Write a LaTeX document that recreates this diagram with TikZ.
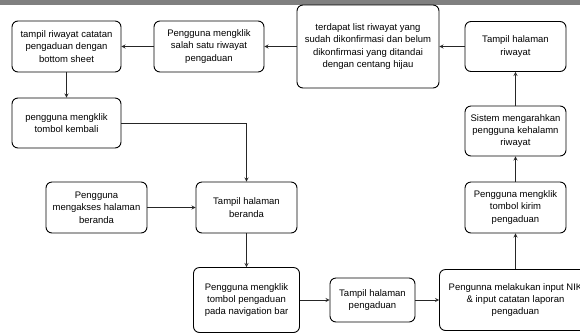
\documentclass[tikz,border=0pt]{standalone}
\usepackage{fontspec}
\setmainfont{Liberation Sans}
\usepackage{xcolor}

\begin{document}
\begin{tikzpicture}[x=1pt,y=-1pt,
  s/.style={draw,rounded corners=6pt,line width=0.9pt,inner sep=0pt,
            align=center,font=\fontsize{9.5}{12.3}\selectfont,fill=white},
  a/.style={->,>=stealth,line width=0.8pt,draw=black!85}
]
\useasboundingbox (0,0) rectangle (580,333);
\clip (0,0) rectangle (580,333);
\fill[black!50] (0,0) rectangle (580,5);
\node[s,minimum width=109pt,minimum height=51pt] (n1) at (66.5,46.5) {tampil riwayat catatan\\pengaduan dengan\\bottom sheet};
\node[s,minimum width=110pt,minimum height=51pt] (n2) at (209,46.5) {Pengguna mengklik\\salah satu riwayat\\pengaduan};
\node[s,minimum width=142pt,minimum height=83pt] (n3) at (368,46.5) {terdapat list riwayat yang\\sudah dikonfirmasi dan belum\\dikonfirmasi yang ditandai\\dengan centang hijau};
\node[s,minimum width=101pt,minimum height=50pt] (n4) at (515.5,46.5) {Tampil halaman\\riwayat};
\node[s,minimum width=101pt,minimum height=50pt] (n5) at (515.5,131) {Sistem mengarahkan\\pengguna kehalamn\\riwayat};
\node[s,minimum width=101pt,minimum height=51pt] (n6) at (515.5,207.5) {Pengguna mengklik\\tombol kirim\\pengaduan};
\node[s,minimum width=152pt,minimum height=61pt] (n7) at (515.5,300) {Pengunna melakukan input NIK\\\& input catatan laporan\\pengaduan};
\node[s,minimum width=85pt,minimum height=44pt] (n8) at (372.5,300) {Tampil halaman\\pengaduan};
\node[s,minimum width=106pt,minimum height=65pt] (n9) at (246.5,300) {Pengguna mengklik\\tombol pengaduan\\pada navigation bar};
\node[s,minimum width=101pt,minimum height=51pt] (n10) at (246.5,207.5) {Tampil halaman\\beranda};
\node[s,minimum width=101pt,minimum height=51pt] (n11) at (96.5,207.5) {Pengguna\\mengakses halaman\\beranda};
\node[s,minimum width=109pt,minimum height=50pt] (n12) at (66.5,123) {pengguna mengklik\\tombol kembali};
\draw[a](n3)--(n2);\draw[a](n2)--(n1);\draw[a](n1)--(n12);
\draw[a](n12.east)-|(n10.north);
\draw[a](n11)--(n10);\draw[a](n10)--(n9);\draw[a](n9)--(n8);\draw[a](n8)--(n7);
\draw[a](n7)--(n6);\draw[a](n6)--(n5);\draw[a](n5)--(n4);\draw[a](n4)--(n3);
\end{tikzpicture}
\end{document}
